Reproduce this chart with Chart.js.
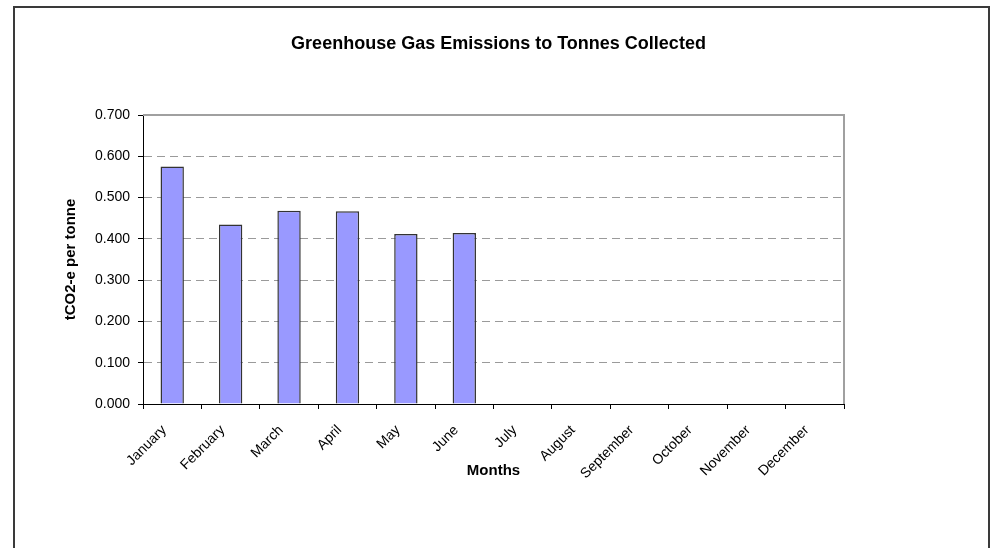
<!DOCTYPE html>
<html>
<head>
<meta charset="utf-8">
<title>Greenhouse Gas Emissions to Tonnes Collected</title>
<script src="https://cdn.jsdelivr.net/npm/chart.js"></script>
<style>
    body { margin: 0; background: #fff; }
    #wrap { width: 997px; height: 548px; }
</style>
</head>
<body>
<div id="wrap"><canvas id="ghgChart" width="997" height="548"></canvas></div>
<script>
// ===== DATA =====
const months = ["January", "February", "March", "April", "May", "June",
    "July", "August", "September", "October", "November", "December"];
const emissionsPerTonne = [0.575, 0.435, 0.468, 0.467, 0.412, 0.414,
    null, null, null, null, null, null];
const yMin = 0;
const yMax = 0.7;
const yStep = 0.1;

const fontName = "'Liberation Sans', Arial, Helvetica, sans-serif";

// white page, outer frame and the grey top/right edge of the plot area
const framePlugin = {
    id: "frame",
    beforeDraw: function (chart) {
        const ctx = chart.ctx;
        ctx.save();
        ctx.fillStyle = "#fff";
        ctx.fillRect(0, 0, chart.width, chart.height);
        ctx.restore();
    },
    afterDraw: function (chart) {
        const ctx = chart.ctx;
        const a = chart.chartArea;
        ctx.save();
        ctx.strokeStyle = "#a0a0a0";
        ctx.lineWidth = 2;
        ctx.beginPath();
        ctx.moveTo(a.left, a.top);
        ctx.lineTo(a.right, a.top);
        ctx.lineTo(a.right, a.bottom);
        ctx.stroke();

        ctx.strokeStyle = "#3a3a3a";
        ctx.lineWidth = 2;
        ctx.strokeRect(14, 7, 975, 600);
        ctx.restore();
    }
};

document.addEventListener("DOMContentLoaded", function () {

    new Chart(document.getElementById("ghgChart"), {
        type: "bar",
        data: {
            labels: months,
            datasets: [{
                label: "tCO2-e per tonne",
                data: emissionsPerTonne,
                backgroundColor: "#9999ff",
                borderColor: "#333",
                borderWidth: 1.5,
                borderSkipped: "start",
                categoryPercentage: 1,
                barPercentage: 0.4
            }]
        },
        options: {
            responsive: false,
            animation: false,
            layout: {
                padding: 0
            },
            plugins: {
                legend: { display: false },
                tooltip: { enabled: false },
                title: {
                    display: true,
                    text: "Greenhouse Gas Emissions to Tonnes Collected",
                    color: "#000",
                    font: { family: fontName, size: 18, weight: "bold" },
                    padding: { top: 33, bottom: 60.4 }
                }
            },
            scales: {
                x: {
                    afterFit: function (scale) { scale.height = 144; },
                    grid: {
                        offset: true,
                        drawOnChartArea: false,
                        drawTicks: true,
                        tickLength: 5,
                        tickColor: "#000",
                        color: "#000"
                    },
                    border: { color: "#000", width: 1 },
                    ticks: {
                        autoSkip: false,
                        minRotation: 45,
                        maxRotation: 45,
                        padding: 13,
                        labelOffset: -8,
                        color: "#000",
                        font: { family: fontName, size: 14 }
                    },
                    title: {
                        display: true,
                        text: "Months",
                        color: "#000",
                        font: { family: fontName, size: 15, weight: "bold" },
                        padding: { top: 0, bottom: 68 }
                    }
                },
                y: {
                    min: yMin,
                    max: yMax,
                    afterFit: function (scale) { scale.width = 143; },
                    grid: {
                        color: function (c) {
                            if (c.tick && (c.tick.value === yMin || c.tick.value === yMax)) {
                                return "rgba(0,0,0,0)";
                            }
                            return "#9a9a9a";
                        },
                        lineWidth: 1,
                        tickLength: 5,
                        tickColor: "#000",
                        tickBorderDash: []
                    },
                    border: { color: "#000", width: 1, dash: [8, 5] },
                    ticks: {
                        stepSize: yStep,
                        padding: 8,
                        color: "#000",
                        font: { family: fontName, size: 14 },
                        callback: function (v) { return Number(v).toFixed(3); }
                    },
                    title: {
                        display: true,
                        text: "tCO2-e per tonne",
                        color: "#000",
                        font: { family: fontName, size: 15, weight: "bold" },
                        padding: { top: 62, bottom: 0 }
                    }
                },
                // empty right margin so the title centres on the whole frame
                yRight: {
                    position: "right",
                    afterFit: function (scale) { scale.width = 153; },
                    grid: { drawOnChartArea: false, drawTicks: false },
                    border: { display: false },
                    ticks: { display: false }
                }
            }
        },
        plugins: [framePlugin]
    });

});
</script>
</body>
</html>
